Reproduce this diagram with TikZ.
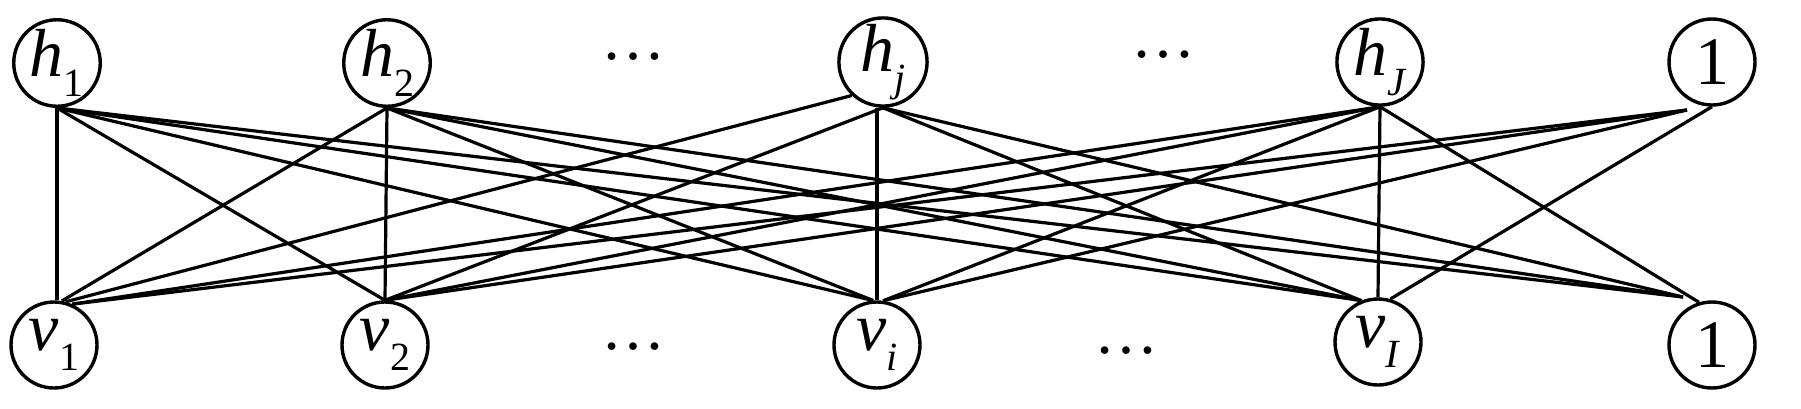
\documentclass[tikz,border=0pt]{standalone}
\usepackage{fontspec}
\setmainfont{Liberation Serif}
\newcommand{\nlab}[2]{\textit{#1}\raisebox{-0.3em}{\fontsize{20}{20}\selectfont #2}}
\begin{document}
\begin{tikzpicture}[x=0.5pt,y=-0.5pt,
  unit/.style={circle,draw,line width=1.7pt,minimum size=43pt,inner sep=0pt,font=\fontsize{34}{34}\selectfont},
  link/.style={line width=1.6pt},
  dotsl/.style={font=\fontsize{32}{32}\selectfont,inner sep=0pt}]
\useasboundingbox (0,0) rectangle (1801,408);
% top row
\node[unit] (h1) at (57,63) {\nlab{h}{1}};
\node[unit] (h2) at (387,63) {\nlab{h}{2}};
\node[unit] (hj) at (883,62) {\nlab{h}{\textit{j}}};
\node[unit] (hJ) at (1380,62) {\nlab{h}{\textit{J}}};
\node[unit] (b1) at (1712,62) {1};
% bottom row
\node[unit] (v1) at (54,345) {\nlab{v}{1}};
\node[unit] (v2) at (385,345) {\nlab{v}{2}};
\node[unit] (vi) at (877,345) {\nlab{v}{\textit{i}}};
\node[unit] (vI) at (1378,342) {\nlab{v}{\textit{I}}};
\node[unit] (b2) at (1712,345) {1};
% dots
\node[dotsl] (d1) at (633,57) {…};
\node[dotsl] (d2) at (1163,55) {…};
\node[dotsl] (d3) at (633,347) {…};
\node[dotsl] (d4) at (1126,351) {…};
% free ends near the bias units
\coordinate (b1x) at (1687,110);
\coordinate (b2x) at (1683,297);
% edges from h1
\draw[link] (h1.south) -- (v1.north -| h1.south);
\draw[link] (h1.south) -- (v2.north);
\draw[link] (h1.south) -- (vi.95);
\draw[link] (h1.south) -- (vI.112);
\draw[link] (h1.south) -- (b2x);
% edges from h2
\draw[link] (h2.south) -- (v1.80);
\draw[link] (h2.south) -- (v2.north);
\draw[link] (h2.south) -- (vi.95);
\draw[link] (h2.south) -- (vI.112);
\draw[link] (h2.south) -- (b2x);
% edges from hj
\draw[link] (hj.227) -- (v1.75);
\draw[link] (hj.south) -- (v2.north);
\draw[link] (hj.south -| vi.north) -- (vi.north);
\draw[link] (hj.south) -- (vI.112);
\draw[link] (hj.south) -- (b2x);
% edges from hJ
\draw[link] (hJ.south) -- (v1.66);
\draw[link] (hJ.south) -- (v2.north);
\draw[link] (hJ.south) -- (vi.82);
\draw[link] (hJ.south) -- (vI.north);
\draw[link] (hJ.south) -- (b2.107);
% edges from bias 1
\draw[link] (b1x) -- (v1.66);
\draw[link] (b1x) -- (v2.north);
\draw[link] (b1x) -- (vi.82);
\draw[link] (b1.south) -- (vI.74);
\end{tikzpicture}
\end{document}
